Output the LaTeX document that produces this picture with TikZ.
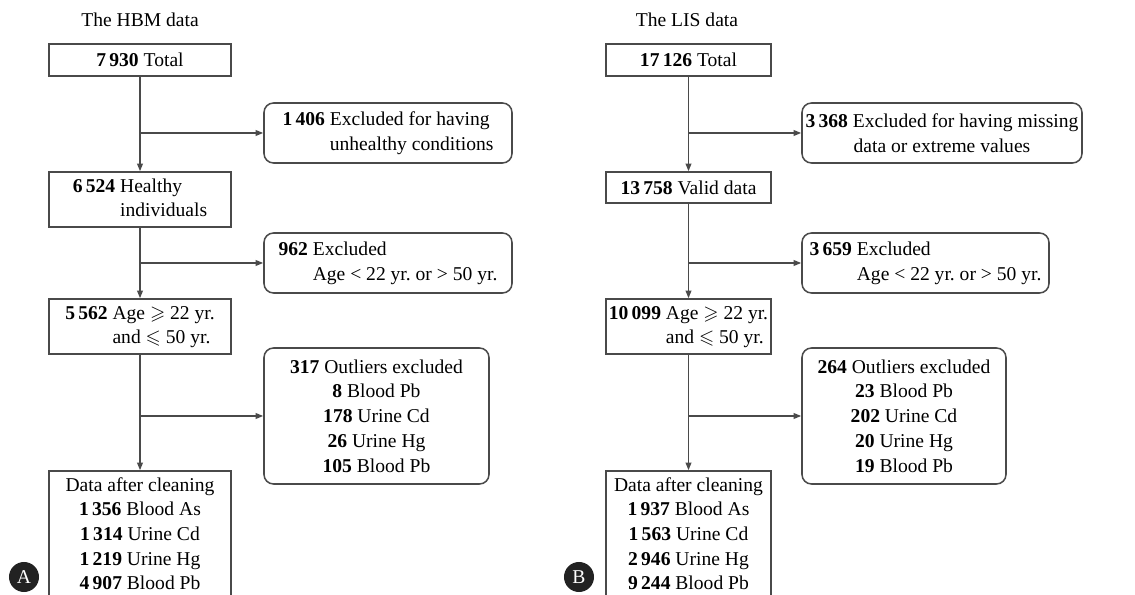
\documentclass[tikz,border=0pt]{standalone}
\usepackage{amssymb}
\usepackage{fontspec}
\setmainfont{Liberation Serif}
\frenchspacing
\usetikzlibrary{fit,arrows.meta}
\definecolor{ln}{HTML}{4A4A4A}
\definecolor{dot}{HTML}{222222}
\tikzset{
  box/.style={draw=ln, line width=0.8pt, inner sep=0pt, rectangle},
  rbox/.style={box, rounded corners=5pt},
  txt/.style={inner sep=0pt, font=\fontsize{10.3}{13}\selectfont, align=center},
  ttl/.style={inner sep=0pt, font=\fontsize{10.3}{13}\selectfont},
  arr/.style={draw=ln, line width=0.8pt, -{Triangle[length=4pt,width=3pt]}},
  tag/.style={circle, fill=dot, text=white, minimum size=15.8pt, inner sep=0pt, font=\fontsize{10.3}{12}\selectfont}
}
\newcommand{\nb}[1]{\textbf{#1}}
\begin{document}
\begin{tikzpicture}[x=0.5263pt,y=-0.5263pt]
\useasboundingbox (0,0) rectangle (1135,595);
\clip (0,0) rectangle (1135,595);
% ---------------- Panel A ----------------
\node[ttl] (tA) at (140,20) {The HBM data};
\node[box, fit={(49,44)(231,76)}] (a1) {};
\node[txt] (a1t) at (a1.center) {\nb{7\,930} Total};
\node[rbox, fit={(264,103)(512,163)}] (a2) {};
\node[txt] (a2t) at (a2.center) {\begin{tabular}{@{}r@{ }l@{}}\nb{1\,406} & Excluded for having\\ & unhealthy conditions\end{tabular}};
\node[box, fit={(49,172)(231,227)}] (a3) {};
\node[txt] (a3t) at (a3.center) {\begin{tabular}{@{}r@{ }l@{}}\nb{6\,524} & Healthy\\ & individuals\end{tabular}};
\node[rbox, fit={(264,233)(512,293)}] (a4) {};
\node[txt] (a4t) at (a4.center) {\begin{tabular}{@{}r@{ }l@{}}\nb{962} & Excluded\\ & Age < 22 yr. or > 50 yr.\end{tabular}};
\node[box, fit={(49,299)(231,354)}] (a5) {};
\node[txt] (a5t) at (a5.center) {\begin{tabular}{@{}r@{ }l@{}}\nb{5\,562} & Age $\geqslant$ 22 yr.\\ & and $\leqslant$ 50 yr.\end{tabular}};
\node[rbox, fit={(264,348)(489,484)}] (a6) {};
\node[txt] (a6t) at (a6.center) {\nb{317} Outliers excluded\\ \nb{8} Blood Pb\\ \nb{178} Urine Cd\\ \nb{26} Urine Hg\\ \nb{105} Blood Pb};
\node[box, fit={(49,471)(231,620)}] (a7) {};
\node[txt, anchor=north] (a7t) at (140,477) {Data after cleaning\\ \nb{1\,356} Blood As\\ \nb{1\,314} Urine Cd\\ \nb{1\,219} Urine Hg\\ \nb{4\,907} Blood Pb};
\node[tag] (cA) at (24,577) {A};
\draw[arr] (a1) -- (a3);
\draw[arr] (a3) -- (a5);
\draw[arr] (a5) -- (a7);
\draw[arr] (a1.south |- a2.west) -- (a2.west);
\draw[arr] (a3.south |- a4.west) -- (a4.west);
\draw[arr] (a5.south |- a6.west) -- (a6.west);
% ---------------- Panel B ----------------
\node[ttl] (tB) at (687,20) {The LIS data};
\node[box, fit={(606,44)(771,76)}] (b1) {};
\node[txt] (b1t) at (b1.center) {\nb{17\,126} Total};
\node[rbox, fit={(802,103)(1082,163)}] (b2) {};
\node[txt] (b2t) at (b2.center) {\nb{3\,368} Excluded for having missing\\ data or extreme values};
\node[box, fit={(606,172)(771,203)}] (b3) {};
\node[txt] (b3t) at (b3.center) {\nb{13\,758} Valid data};
\node[rbox, fit={(802,233)(1049,293)}] (b4) {};
\node[txt] (b4t) at (b4.center) {\begin{tabular}{@{}r@{ }l@{}}\nb{3\,659} & Excluded\\ & Age < 22 yr. or > 50 yr.\end{tabular}};
\node[box, fit={(606,299)(771,354)}] (b5) {};
\node[txt] (b5t) at (b5.center) {\begin{tabular}{@{}r@{ }l@{}}\nb{10\,099} & Age $\geqslant$ 22 yr.\\ & and $\leqslant$ 50 yr.\end{tabular}};
\node[rbox, fit={(802,348)(1006,484)}] (b6) {};
\node[txt] (b6t) at (b6.center) {\nb{264} Outliers excluded\\ \nb{23} Blood Pb\\ \nb{202} Urine Cd\\ \nb{20} Urine Hg\\ \nb{19} Blood Pb};
\node[box, fit={(606,471)(771,620)}] (b7) {};
\node[txt, anchor=north] (b7t) at (688.5,477) {Data after cleaning\\ \nb{1\,937} Blood As\\ \nb{1\,563} Urine Cd\\ \nb{2\,946} Urine Hg\\ \nb{9\,244} Blood Pb};
\node[tag] (cB) at (579,577) {B};
\draw[arr] (b1) -- (b3);
\draw[arr] (b3) -- (b5);
\draw[arr] (b5) -- (b7);
\draw[arr] (b1.south |- b2.west) -- (b2.west);
\draw[arr] (b3.south |- b4.west) -- (b4.west);
\draw[arr] (b5.south |- b6.west) -- (b6.west);
\end{tikzpicture}
\end{document}
